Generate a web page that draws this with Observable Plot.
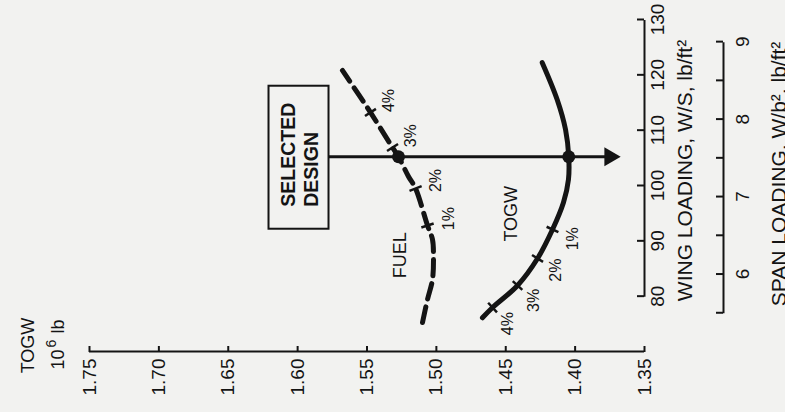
<!DOCTYPE html>
<html><head><meta charset="utf-8">
<script src="https://cdn.jsdelivr.net/npm/d3@7"></script>
<script src="https://cdn.jsdelivr.net/npm/@observablehq/plot@0.6"></script>
<style>
html,body{margin:0;padding:0;background:#f2f2f0;overflow:hidden;width:785px;height:412px;}
#chart{position:absolute;left:0;top:0;width:412px;height:785px;transform-origin:0 0;transform:translate(0px,412px) rotate(-90deg);}
#chart svg{display:block;}
</style></head><body><div id="chart"></div>
<script>
// ---- data ----
const togwTicks = [1.35, 1.40, 1.45, 1.50, 1.55, 1.60, 1.65, 1.70, 1.75];
const wingTicks = [80, 90, 100, 110, 120, 130];
const spanTicks = [5.5, 6, 6.5, 7, 7.5, 8, 8.5, 9];
const spanLabels = [6, 7, 8, 9];
const aspectRatio = 14; // W/S divided by W/b^2

const togwCurveWing = [76.1, 77.95, 81.93, 86.81, 92.05, 96.93, 101.1, 105.2, 110.1, 115.5, 122.2];
const togwCurveTogw = [1.4668, 1.4595, 1.4415, 1.4271, 1.4163, 1.4084, 1.4048, 1.4046, 1.4069, 1.4129, 1.4237];
const fuelCurveWing = [75.24, 79.40, 83.01, 87.17, 90.24, 92.77, 99.46, 101.63, 105.2, 106.87, 113.2, 120.79];
const fuelCurveTogw = [1.5100, 1.5064, 1.5028, 1.5021, 1.5028, 1.5064, 1.5150, 1.5201, 1.5273, 1.5316, 1.5475, 1.5677];

const pctLabels = ["1%", "2%", "3%", "4%"];
const togwPctWing = [92.05, 86.81, 81.93, 77.95];
const togwPctTogw = [1.4163, 1.4271, 1.4415, 1.4595];
const fuelPctWing = [92.77, 99.46, 106.87, 113.2];
const fuelPctTogw = [1.5064, 1.5150, 1.5316, 1.5475];

const selectedWing = 105.2;
const selectedTogw = 1.4046;
const selectedFuel = 1.5273;
const boxTogw = 1.599;
const arrowEndTogw = 1.375;
const curveNames = ["FUEL", "TOGW"];
const curveNameWing = [87.4, 94.9];
const curveNameTogw = [1.526, 1.446];

// ---- layout / style ----
const W = 412, H = 785;
const M = {left: 60, right: 20, top: 89, bottom: 141};
const ink = "#141414", bg = "#f2f2f0";
const xOpts = {domain: [70, 130], range: [M.left, W - M.right]};
const yOpts = {domain: [1.35, 1.75], range: [H - M.bottom, M.top]};
const xs = Plot.scale({x: xOpts});
const ys = Plot.scale({y: yOpts});
const spanOffset = 79;
const fam = "'Liberation Sans', Arial, Helvetica, sans-serif";

function curveTicks(cw, ct, tw, tt, half, dist) {
  const px = cw.map((w, i) => [xs.apply(w), ys.apply(ct[i])]);
  const segs = [], labs = [];
  tw.forEach((w, j) => {
    const p = [xs.apply(w), ys.apply(tt[j])];
    let k = 0, best = Infinity;
    px.forEach((q, i) => { const d = (q[0]-p[0])**2 + (q[1]-p[1])**2; if (d < best) { best = d; k = i; } });
    const a = px[Math.max(k-1, 0)], b = px[Math.min(k+1, px.length-1)];
    let tx = b[0]-a[0], ty = b[1]-a[1]; const L = Math.hypot(tx, ty); tx /= L; ty /= L;
    let nx = -ty, ny = tx; if (ny < 0) { nx = -nx; ny = -ny; }
    segs.push({x1: xs.invert(p[0]-nx*half), y1: ys.invert(p[1]-ny*half), x2: xs.invert(p[0]+nx*half), y2: ys.invert(p[1]+ny*half)});
    labs.push({x: xs.invert(p[0]+nx*dist), y: ys.invert(p[1]+ny*dist), text: pctLabels[j]});
  });
  return {segs, labs};
}
const tt = curveTicks(togwCurveWing, togwCurveTogw, togwPctWing, togwPctTogw, 6.5, 22);
const ft = curveTicks(fuelCurveWing, fuelCurveTogw, fuelPctWing, fuelPctTogw, 6.5, 22);
const idxT = togwCurveWing.map((_, i) => i);
const idxF = fuelCurveWing.map((_, i) => i);
const font = 19;
const none = () => "";

const chart = Plot.plot({
  width: W, height: H,
  marginLeft: M.left, marginRight: M.right, marginTop: M.top, marginBottom: M.bottom,
  x: xOpts, y: yOpts,
  style: {background: bg, color: ink, fontFamily: fam, overflow: "visible"},
  marks: [
    // TOGW axis
    Plot.ruleX([xOpts.domain[0]], {y1: d3.min(togwTicks), y2: d3.max(togwTicks), stroke: ink, strokeWidth: 2}),
    Plot.axisY({ticks: togwTicks, tickFormat: none, tickSize: 6, dx: 6, strokeWidth: 2, label: null}),
    Plot.text(togwTicks, {y: d => d, text: d3.format(".2f"), frameAnchor: "left", textAnchor: "end", lineAnchor: "middle", dx: -7, fontSize: font, fill: ink}),
    Plot.text(["TOGW"], {frameAnchor: "top-left", dx: 6, dy: -61, fontSize: 18, textAnchor: "middle", lineAnchor: "middle", fill: ink}),
    Plot.text(["10"], {frameAnchor: "top-left", dx: 2, dy: -31, fontSize: 18, textAnchor: "end", lineAnchor: "middle", fill: ink}),
    Plot.text(["6"], {frameAnchor: "top-left", dx: 4, dy: -38, fontSize: 14, textAnchor: "start", lineAnchor: "middle", fill: ink}),
    Plot.text(["lb"], {frameAnchor: "top-left", dx: 18, dy: -31, fontSize: 18, textAnchor: "start", lineAnchor: "middle", fill: ink}),
    // wing loading axis
    Plot.ruleY([yOpts.domain[0]], {x1: d3.min(wingTicks), x2: d3.max(wingTicks), stroke: ink, strokeWidth: 2}),
    Plot.axisX({ticks: wingTicks, tickFormat: none, tickSize: 7, dy: -7, strokeWidth: 2, label: null}),
    Plot.text(wingTicks, {x: d => d, frameAnchor: "bottom", lineAnchor: "top", dy: 6, fontSize: font, fill: ink}),
    Plot.text(["WING LOADING, W/S, lb/ft\u00b2"], {x: d3.min(wingTicks), frameAnchor: "bottom", textAnchor: "start", lineAnchor: "middle", dx: -5, dy: 41, fontSize: 21, fill: ink}),
    // span loading axis
    Plot.ruleY([yOpts.domain[0]], {x1: d3.min(spanTicks) * aspectRatio, x2: d3.max(spanTicks) * aspectRatio, dy: spanOffset, stroke: ink, strokeWidth: 2}),
    Plot.axisX({ticks: spanTicks.map(s => s * aspectRatio), tickFormat: none, tickSize: 7, dy: spanOffset - 7, strokeWidth: 2, label: null}),
    Plot.text(spanLabels, {x: d => d * aspectRatio, frameAnchor: "bottom", lineAnchor: "top", dy: spanOffset + 12, fontSize: font, fill: ink}),
    Plot.text(["SPAN LOADING, W/b\u00b2, lb/ft\u00b2"], {x: d3.min(wingTicks), frameAnchor: "bottom", textAnchor: "start", lineAnchor: "middle", dx: -10, dy: 135, fontSize: 21, fill: ink}),
    // selected design arrow
    Plot.ruleX([selectedWing], {y1: boxTogw, y2: arrowEndTogw, stroke: ink, strokeWidth: 3}),
    Plot.dot([selectedWing], {x: d => d, y: arrowEndTogw, symbol: "triangle", rotate: 180, r: 7, fill: ink, stroke: null}),
    // curves
    Plot.line(idxT, {x: i => togwCurveWing[i], y: i => togwCurveTogw[i], curve: "catmull-rom", stroke: ink, strokeWidth: 5, strokeLinecap: "round"}),
    Plot.line(idxF, {x: i => fuelCurveWing[i], y: i => fuelCurveTogw[i], curve: "catmull-rom", stroke: ink, strokeWidth: 5, strokeDasharray: "16,8"}),
    Plot.link(tt.segs.concat(ft.segs), {x1: "x1", y1: "y1", x2: "x2", y2: "y2", stroke: ink, strokeWidth: 2.5}),
    Plot.dot([selectedTogw, selectedFuel], {x: selectedWing, y: d => d, r: 6.5, fill: ink, stroke: null}),
    // labels
    Plot.text(tt.labs.concat(ft.labs), {x: "x", y: "y", text: "text", fontSize: 16, textAnchor: "middle", lineAnchor: "middle", fill: ink}),
    Plot.text(curveNames, {x: (d, i) => curveNameWing[i], y: (d, i) => curveNameTogw[i], text: d => d, fontSize: 18, textAnchor: "middle", lineAnchor: "middle", fill: ink}),
    // selected design box
    Plot.rect([boxTogw], {x1: selectedWing, x2: selectedWing, y1: d => d, y2: d => d, insetLeft: -71.5, insetRight: -71.5, insetTop: -30, insetBottom: -30, fill: bg, stroke: ink, strokeWidth: 2}),
    Plot.text(["SELECTED\nDESIGN"], {x: selectedWing, y: boxTogw, textAnchor: "start", dx: -50, lineAnchor: "middle", lineHeight: 1.18, fontSize: 19.5, fontWeight: "bold", fill: ink})
  ]
});
document.getElementById("chart").appendChild(chart);
</script></body></html>
